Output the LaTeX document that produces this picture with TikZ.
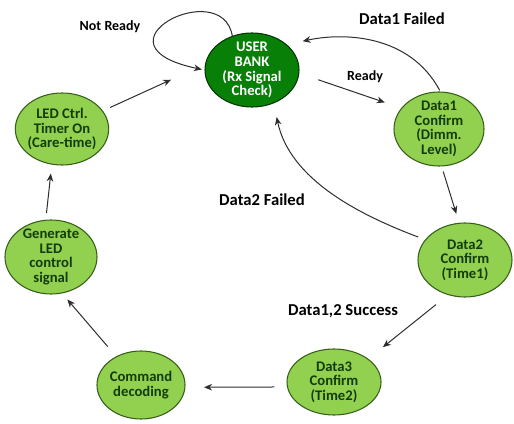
\documentclass[tikz,border=0pt]{standalone}
\usepackage{fontspec}
\setmainfont{Carlito}
\usepackage{tikz}
\usetikzlibrary{shapes.geometric, arrows.meta, positioning}
\definecolor{stgreen}{RGB}{146,208,80}
\definecolor{stedge}{RGB}{55,95,25}
\definecolor{sttext}{RGB}{20,60,10}
\definecolor{bankgreen}{RGB}{8,128,8}
\definecolor{bankedge}{RGB}{0,55,0}
\definecolor{arrowgray}{RGB}{45,45,45}
\tikzset{
  state/.style={ellipse, draw=stedge, fill=stgreen, line width=0.8pt,
    inner xsep=-6pt, inner ysep=-14pt, align=center, text=sttext,
    font=\fontsize{11}{11}\selectfont\bfseries},
  bankstate/.style={state, draw=bankedge, fill=bankgreen, text=white},
  arrow/.style={-{Stealth[length=6pt, width=5pt]}, line width=0.75pt, color=arrowgray},
  lbl/.style={font=\fontsize{12.5}{13}\selectfont\bfseries, text=black},
  smalllbl/.style={font=\fontsize{10.5}{11}\selectfont\bfseries, text=black}
}
\begin{document}
\begin{tikzpicture}[x=0.75pt, y=-0.75pt]
  \useasboundingbox (0,0) rectangle (514,424);

  % states
  \node[bankstate, minimum width=70.5pt, minimum height=55.5pt] (bank) at (252,70) {USER\\BANK\\(Rx Signal\\Check)};
  \node[state, minimum width=67.5pt, minimum height=55.5pt] (dataone) at (439,129) {Data1\\Confirm\\(Dimm.\\Level)};
  \node[state, minimum width=70.5pt, minimum height=55.5pt] (datatwo) at (465,260) {Data2\\Confirm\\(Time1)};
  \node[state, minimum width=70.5pt, minimum height=49.5pt] (datathree) at (334,382) {Data3\\Confirm\\(Time2)};
  \node[state, minimum width=66pt, minimum height=51pt] (decode) at (141,385) {Command\\decoding};
  \node[state, minimum width=69pt, minimum height=55.5pt] (genled) at (51,257) {Generate\\LED\\control\\signal};
  \node[state, minimum width=70pt, minimum height=54pt] (ledtimer) at (62,129) {LED Ctrl.\\Timer On\\(Care-time)};

  % labels
  \node[smalllbl] (lnotready) at (110,27) {Not Ready};
  \node[lbl] (lfailone) at (402,19) {Data1 Failed};
  \node[smalllbl] (lready) at (365,77) {Ready};
  \node[lbl] (lfailtwo) at (262,200) {Data2 Failed};
  \node[lbl] (lsuccess) at (343,311) {Data1,2 Success};

  % transitions
  \draw[arrow, shorten >=2pt] (bank.120) .. controls (222,-25) and (85,45) .. (bank.180);
  \draw[arrow, shorten <=15pt, shorten >=13pt] (bank.-4) -- (dataone.151);
  \draw[arrow, shorten <=1pt, shorten >=12pt] (dataone.88) .. controls (410,35) and (345,32) .. (bank.36);
  \draw[arrow, shorten <=4pt, shorten >=7pt] (dataone.-86) -- (datatwo.99);
  \draw[arrow, shorten <=5.5pt, shorten >=10.5pt] (datatwo.153) .. controls (360,215) and (290,180) .. (bank.-57);
  \draw[arrow, shorten <=11.5pt, shorten >=14pt] (datatwo.-116) -- (datathree.34);
  \draw[arrow, shorten <=9.5pt, shorten >=14pt] (datathree.186) -- (decode.-3);
  \draw[arrow, shorten <=9.6pt, shorten >=6pt] (decode.131) -- (genled.-73);
  \draw[arrow, shorten <=5pt, shorten >=6.7pt] (genled.98) -- (ledtimer.-106);
  \draw[arrow, shorten <=6pt, shorten >=28pt] (ledtimer.24) -- (bank.173);
\end{tikzpicture}
\end{document}
